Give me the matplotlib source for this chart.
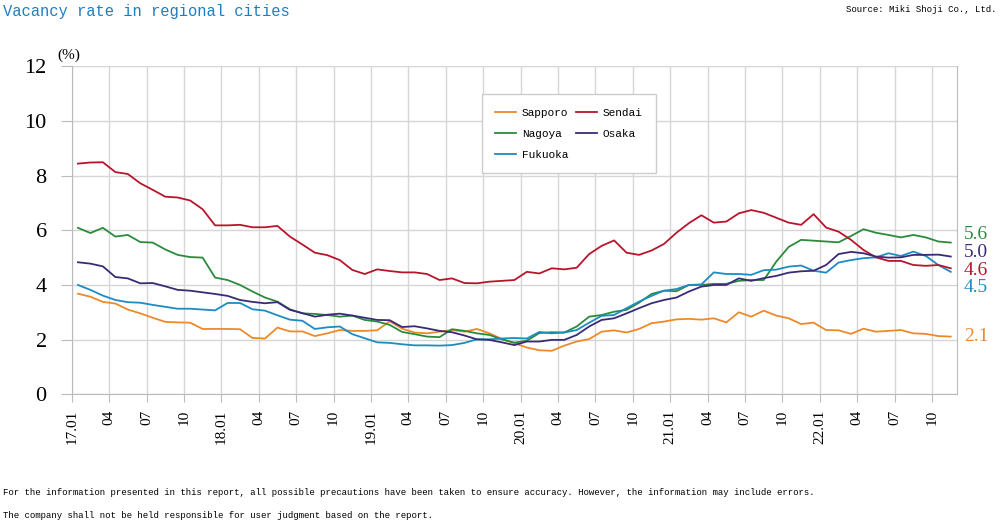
import numpy as np
import matplotlib
matplotlib.use("Agg")
import matplotlib.pyplot as plt

# monthly vacancy rate (%), 17.01 .. 22.11
sapporo = [3.68, 3.57, 3.38, 3.32, 3.10, 2.96, 2.80, 2.65, 2.63, 2.62, 2.39, 2.39,
           2.39, 2.38, 2.06, 2.04, 2.44, 2.30, 2.30, 2.13, 2.23, 2.35, 2.32, 2.32,
           2.34, 2.67, 2.40, 2.26, 2.23, 2.29, 2.35, 2.29, 2.39, 2.23, 2.02, 1.87,
           1.71, 1.61, 1.59, 1.78, 1.93, 2.02, 2.29, 2.34, 2.26, 2.39, 2.60, 2.66,
           2.74, 2.76, 2.73, 2.78, 2.63, 3.00, 2.84, 3.06, 2.88, 2.78, 2.57, 2.62,
           2.35, 2.34, 2.21, 2.40, 2.29, 2.32, 2.35, 2.23, 2.21, 2.13, 2.11]
sendai = [8.44, 8.48, 8.49, 8.13, 8.06, 7.72, 7.48, 7.23, 7.20, 7.09, 6.77, 6.18,
          6.18, 6.20, 6.11, 6.11, 6.16, 5.77, 5.48, 5.18, 5.09, 4.91, 4.55, 4.40,
          4.57, 4.51, 4.46, 4.46, 4.40, 4.18, 4.24, 4.07, 4.06, 4.12, 4.15, 4.18,
          4.48, 4.42, 4.61, 4.57, 4.63, 5.13, 5.43, 5.63, 5.18, 5.10, 5.26, 5.50,
          5.91, 6.26, 6.55, 6.28, 6.32, 6.62, 6.74, 6.64, 6.46, 6.28, 6.20, 6.59,
          6.10, 5.95, 5.65, 5.28, 5.01, 4.88, 4.88, 4.73, 4.70, 4.73, 4.61]
nagoya = [6.09, 5.90, 6.09, 5.77, 5.83, 5.57, 5.55, 5.30, 5.10, 5.02, 5.00, 4.27,
          4.18, 4.00, 3.76, 3.54, 3.39, 3.11, 2.96, 2.94, 2.90, 2.84, 2.88, 2.72,
          2.66, 2.54, 2.28, 2.20, 2.11, 2.09, 2.38, 2.32, 2.23, 2.17, 2.01, 1.89,
          1.96, 2.24, 2.27, 2.26, 2.48, 2.84, 2.90, 3.02, 3.09, 3.35, 3.67, 3.79,
          3.77, 4.00, 4.00, 4.04, 4.04, 4.15, 4.18, 4.18, 4.85, 5.39, 5.65, 5.62,
          5.59, 5.56, 5.79, 6.04, 5.91, 5.83, 5.74, 5.83, 5.74, 5.59, 5.55]
osaka = [4.83, 4.78, 4.68, 4.29, 4.24, 4.06, 4.07, 3.95, 3.82, 3.79, 3.73, 3.67,
         3.60, 3.45, 3.38, 3.33, 3.37, 3.09, 2.97, 2.84, 2.91, 2.95, 2.88, 2.80,
         2.72, 2.71, 2.46, 2.49, 2.41, 2.32, 2.27, 2.15, 2.01, 1.99, 1.90, 1.80,
         1.93, 1.93, 1.99, 1.99, 2.17, 2.48, 2.72, 2.78, 2.96, 3.15, 3.33, 3.45,
         3.54, 3.76, 3.94, 4.00, 4.00, 4.24, 4.15, 4.25, 4.33, 4.45, 4.50, 4.52,
         4.73, 5.13, 5.21, 5.16, 5.04, 5.00, 5.01, 5.10, 5.10, 5.11, 5.04]
fukuoka = [4.00, 3.82, 3.61, 3.45, 3.37, 3.35, 3.27, 3.20, 3.13, 3.13, 3.10, 3.07,
           3.34, 3.34, 3.11, 3.06, 2.89, 2.73, 2.69, 2.39, 2.45, 2.48, 2.20, 2.05,
           1.90, 1.88, 1.83, 1.79, 1.79, 1.78, 1.80, 1.88, 2.01, 2.01, 2.04, 2.06,
           2.04, 2.28, 2.23, 2.26, 2.35, 2.62, 2.87, 2.90, 3.15, 3.39, 3.60, 3.79,
           3.85, 4.00, 4.02, 4.46, 4.40, 4.40, 4.37, 4.54, 4.56, 4.67, 4.71, 4.52,
           4.45, 4.82, 4.91, 4.98, 5.01, 5.16, 5.06, 5.22, 5.06, 4.73, 4.48]

cities = ["Sapporo", "Nagoya", "Fukuoka", "Sendai", "Osaka"]
latest = ["2.1", "5.6", "4.5", "4.6", "5.0"]
tick_labels = ["17.01", "04", "07", "10", "18.01", "04", "07", "10",
               "19.01", "04", "07", "10", "20.01", "04", "07", "10",
               "21.01", "04", "07", "10", "22.01", "04", "07", "10"]

series = [sapporo, nagoya, fukuoka, sendai, osaka]
colors = ["#EC8A2A", "#2B8B3D", "#1C8CC2", "#B8152B", "#3A2A78"]
label_dy = [0, 8, -16, -2, 4]  # pixel nudges for end labels

serif = "Liberation Serif"
mono = "Liberation Mono"

fig = plt.figure(figsize=(10, 5.25), dpi=100)
ax = fig.add_axes([0.0717, 0.249, 0.8853, 0.6247])

n = len(sendai)
x = np.arange(n) + 0.5
for vals, col, name, lab, dy in zip(series, colors, cities, latest, label_dy):
    ax.plot(x, vals, color=col, lw=1.3, label=name)
    ax.annotate(lab, xy=(x[-1], vals[-1]), xytext=(13, dy),
                textcoords="offset pixels", color=col, fontsize=14,
                family=serif, va="center", ha="left", annotation_clip=False)

ax.set_xlim(0, n)
ax.set_ylim(0, 12)
ax.set_yticks(np.arange(0, 13, 2))
ax.set_xticks(np.arange(0, n, 3))
ax.set_xticklabels(tick_labels, rotation=90, family=serif, fontsize=11)
ax.set_yticklabels([str(v) for v in range(0, 13, 2)], family=serif, fontsize=16)
ax.tick_params(axis="y", length=8, color="#BBBBBB", pad=10)
ax.tick_params(axis="x", length=6, color="#BBBBBB", pad=5)
ax.grid(True, color="#D6D6D6", lw=1)
ax.set_axisbelow(True)
for s in ax.spines.values():
    s.set_color("#BBBBBB")
ax.spines["top"].set_visible(False)

leg = ax.legend(ncol=2, loc="upper left", bbox_to_anchor=(0.4635, 0.915),
                frameon=True, fancybox=False, prop={"family": mono, "size": 8},
                handlelength=1.9, handletextpad=0.5, columnspacing=0.7,
                labelspacing=1.0, borderpad=1.2, borderaxespad=0)
leg.get_frame().set_edgecolor("#CCCCCC")
leg.get_frame().set_linewidth(1)
leg.get_frame().set_alpha(1)

fig.text(0.069, 0.895, "(%)", family=serif, fontsize=11, ha="center", va="center")
fig.text(0.003, 0.979, "Vacancy rate in regional cities", family=mono,
         fontsize=11.2, color="#1E7EC0", ha="left", va="center")
fig.text(0.997, 0.981, "Source: Miki Shoji Co., Ltd.", family=mono,
         fontsize=6.5, ha="right", va="center")
fig.text(0.003, 0.061, "For the information presented in this report, all possible "
         "precautions have been taken to ensure accuracy. However, the information "
         "may include errors.", family=mono, fontsize=6.5, ha="left", va="center")
fig.text(0.003, 0.019, "The company shall not be held responsible for user judgment "
         "based on the report.", family=mono, fontsize=6.5, ha="left", va="center")

plt.savefig("out.png", dpi=100)
